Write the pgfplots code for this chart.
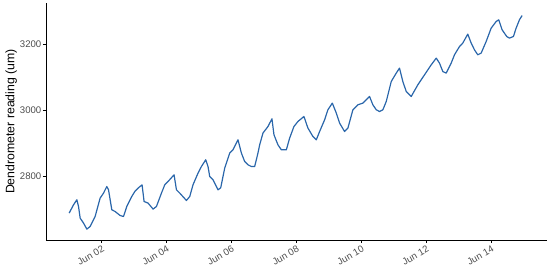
\documentclass[border=0pt]{standalone}
\usepackage{pgfplots}
\pgfplotsset{compat=1.18}
\usepackage{fontspec}
\setmainfont{Liberation Sans}
\definecolor{lineblue}{HTML}{2A66AA}
\definecolor{tickgray}{HTML}{4D4D4D}
\begin{document}
\begin{tikzpicture}
\path[use as bounding box] (-46pt,-30pt) rectangle (504pt,240pt);
\begin{axis}[
  at={(0,0)}, anchor=south west,
  scale only axis, width=501pt, height=237pt,
  xmin=0.29, xmax=15.72, ymin=2609, ymax=3324,
  axis lines=left, axis line style={-, black, line width=0.8pt},
  xtick={2,4,6,8,10,12,14},
  xticklabels={Jun 02,Jun 04,Jun 06,Jun 08,Jun 10,Jun 12,Jun 14},
  ytick={2800,3000,3200},
  tick style={black, line width=0.6pt},
  tick align=outside, major tick length=3pt,
  xticklabel style={rotate=30, anchor=north east, font=\fontsize{9.6}{10}\selectfont, text=tickgray, inner sep=1pt, yshift=-1pt},
  yticklabel style={font=\fontsize{9.6}{10}\selectfont, text=tickgray, inner sep=1.5pt},
  /pgf/number format/assume math mode=true,
  /pgf/number format/set thousands separator={},
  ylabel={Dendrometer reading (um)},
  ylabel style={font=\fontsize{12.3}{13}\selectfont, at={(axis description cs:-0.0629,0.5)}, anchor=base},
  clip=false,
]
\addplot[lineblue, line width=1.2pt, line join=round, mark=none] coordinates {
(1.003,2690.2)(1.138,2715.2)(1.240,2730.3)(1.292,2710.1)(1.342,2675.1)(1.446,2660.0)
(1.548,2641.9)(1.649,2649.7)(1.803,2679.9)(1.957,2735.4)(2.062,2750.5)(2.163,2770.4)
(2.215,2760.4)(2.317,2700.1)(2.418,2695.0)(2.572,2682.9)(2.677,2679.9)(2.778,2710.1)
(2.932,2740.2)(3.025,2755.3)(3.126,2765.6)(3.249,2775.5)(3.311,2725.1)(3.434,2720.3)
(3.588,2702.2)(3.692,2710.1)(3.846,2750.5)(3.948,2775.5)(4.049,2785.5)(4.234,2805.7)
(4.308,2760.4)(4.409,2750.5)(4.615,2728.2)(4.717,2740.2)(4.818,2775.5)(4.972,2810.8)
(5.077,2830.7)(5.209,2850.9)(5.280,2830.7)(5.332,2800.6)(5.434,2790.6)(5.588,2760.4)
(5.671,2766.5)(5.794,2825.9)(5.948,2871.2)(6.049,2881.1)(6.203,2911.3)(6.308,2871.2)
(6.409,2845.8)(6.511,2835.9)(6.615,2830.7)(6.717,2830.7)(6.818,2871.2)(6.871,2896.2)
(6.972,2931.5)(7.126,2951.4)(7.249,2974.6)(7.311,2926.4)(7.434,2896.2)(7.538,2881.1)
(7.692,2881.1)(7.794,2916.4)(7.926,2951.4)(8.049,2966.5)(8.234,2981.6)(8.357,2946.6)
(8.511,2921.2)(8.615,2911.3)(8.717,2936.3)(8.871,2971.6)(8.972,3001.8)(9.108,3022.0)
(9.231,2991.8)(9.332,2961.7)(9.486,2936.3)(9.588,2946.6)(9.742,3001.8)(9.895,3016.9)
(10.049,3022.0)(10.255,3041.9)(10.357,3016.9)(10.462,3001.8)(10.563,2996.6)(10.665,3001.8)
(10.769,3026.8)(10.923,3087.1)(11.077,3112.5)(11.178,3127.6)(11.280,3087.1)(11.385,3057.0)
(11.538,3041.9)(11.742,3077.2)(11.948,3107.4)(12.154,3137.5)(12.308,3157.7)(12.409,3142.7)
(12.511,3117.3)(12.615,3112.5)(12.769,3142.7)(12.871,3167.7)(13.025,3192.7)(13.126,3203.0)
(13.280,3230.1)(13.385,3203.0)(13.486,3182.8)(13.588,3167.7)(13.692,3172.8)(13.846,3207.8)
(14.000,3248.2)(14.154,3268.1)(14.234,3273.3)(14.338,3243.1)(14.480,3222.9)(14.563,3218.1)
(14.686,3222.9)(14.769,3248.2)(14.871,3273.3)(14.954,3286.2)
};
\end{axis}
\end{tikzpicture}
\end{document}
